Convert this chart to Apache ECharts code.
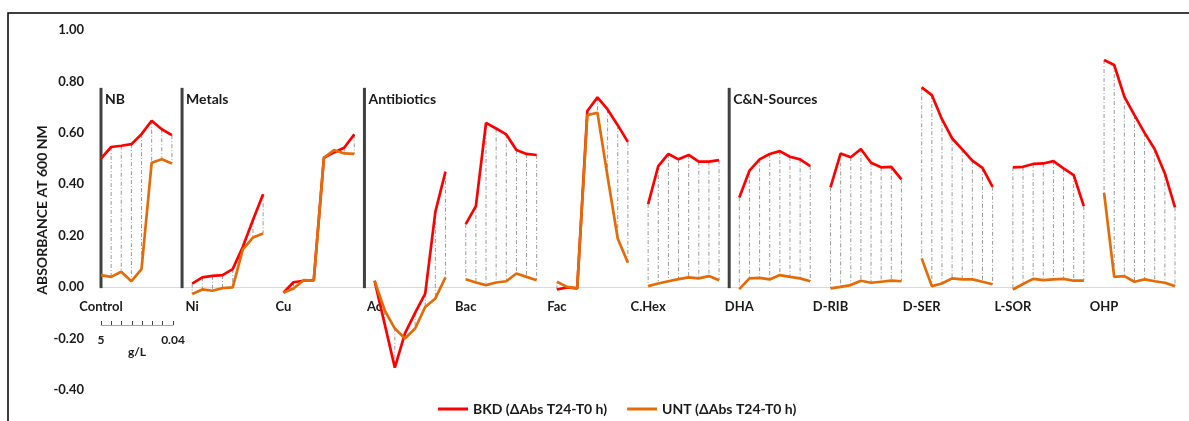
<!DOCTYPE html>
<html>
<head>
<meta charset="utf-8">
<script src="https://cdn.jsdelivr.net/npm/echarts@6/dist/echarts.min.js"></script>
<style>
    html, body { margin: 0; padding: 0; background: #fff; }
    #main { width: 1189px; height: 421px; }
</style>
</head>
<body>
<div id="main"></div>
<script>
// groups of 8 concentrations each (5 g/L down to 0.04 g/L)
const groups = ['Control', 'Ni', 'Cu', 'Ac', 'Bac', 'Fac', 'C.Hex', 'DHA', 'D-RIB', 'D-SER', 'L-SOR', 'OHP'];

const bkdValues = [
    [0.500, 0.545, 0.550, 0.556, 0.595, 0.647, 0.614, 0.591],
    [0.014, 0.038, 0.044, 0.047, 0.070, 0.157, 0.261, 0.361],
    [-0.022, 0.019, 0.025, 0.027, 0.503, 0.524, 0.542, 0.594],
    [0.025, -0.144, -0.313, -0.180, -0.100, -0.025, 0.293, 0.449],
    [0.245, 0.315, 0.639, 0.617, 0.594, 0.533, 0.518, 0.514],
    [-0.009, -0.001, -0.005, 0.685, 0.738, 0.691, 0.630, 0.565],
    [0.323, 0.471, 0.518, 0.497, 0.514, 0.488, 0.488, 0.494],
    [0.349, 0.453, 0.497, 0.518, 0.529, 0.507, 0.497, 0.471],
    [0.388, 0.520, 0.505, 0.537, 0.484, 0.466, 0.468, 0.419],
    [0.777, 0.747, 0.653, 0.579, 0.536, 0.492, 0.464, 0.390],
    [0.466, 0.468, 0.479, 0.481, 0.490, 0.462, 0.436, 0.315],
    [0.883, 0.864, 0.741, 0.669, 0.600, 0.536, 0.442, 0.310]
];

const untValues = [
    [0.047, 0.040, 0.060, 0.023, 0.070, 0.484, 0.497, 0.481],
    [-0.027, -0.009, -0.014, -0.004, -0.001, 0.147, 0.193, 0.209],
    [-0.022, -0.005, 0.027, 0.025, 0.503, 0.533, 0.520, 0.518],
    [0.025, -0.090, -0.161, -0.200, -0.161, -0.077, -0.044, 0.038],
    [0.031, 0.018, 0.008, 0.018, 0.023, 0.053, 0.040, 0.027],
    [0.021, 0.001, -0.005, 0.669, 0.678, 0.429, 0.189, 0.095],
    [0.004, 0.014, 0.023, 0.031, 0.038, 0.034, 0.043, 0.027],
    [-0.008, 0.034, 0.036, 0.030, 0.047, 0.040, 0.034, 0.023],
    [-0.005, 0.001, 0.008, 0.025, 0.017, 0.021, 0.025, 0.023],
    [0.112, 0.004, 0.014, 0.034, 0.030, 0.030, 0.021, 0.011],
    [-0.009, 0.012, 0.032, 0.027, 0.030, 0.032, 0.025, 0.025],
    [0.367, 0.040, 0.043, 0.021, 0.030, 0.023, 0.017, 0.004]
];

// section dividers (category index) and their titles
const sectionAt = [-0.25, 8, 26, 62];
const sectionNames = ['NB', 'Metals', 'Antibiotics', 'C&N-Sources'];
const sectionTop = 0.775;

const doseLabels = ['5', '', '', '', '', '', '', '0.04'];
const yTicks = { min: -0.4, max: 1.0, step: 0.2 };

const FONT = 'Lato, "Open Sans", sans-serif';
const TXT = '#1a1a1a';

// flatten groups into one category axis, with one empty slot between groups
const categories = [];
const bkd = [];
const unt = [];
const drops = [];
groups.forEach((g, gi) => {
    bkdValues[gi].forEach((v, k) => {
        const idx = categories.length;
        categories.push(g + '|' + k);
        bkd.push(v);
        unt.push(untValues[gi][k]);
        drops.push([idx, v, untValues[gi][k]]);
    });
    if (gi < groups.length - 1) {
        categories.push('gap|' + gi);
        bkd.push(null);
        unt.push(null);
    }
});

// put the category axis (line + labels) on the zero line
const gridTop = 30, gridBottom = 31, chartH = 421;
const plotH = chartH - gridTop - gridBottom;
const zeroOffset = -plotH * (0 - yTicks.min) / (yTicks.max - yTicks.min);

const chart = echarts.init(document.getElementById('main'));
const option = {
    animation: false,
    textStyle: { fontFamily: FONT },
    grid: [
        { left: 101, right: 14, top: gridTop, bottom: gridBottom },
        { left: 101, width: 72, top: 300, height: 25 }
    ],
    legend: {
        left: 433,
        top: 397,
        itemWidth: 30,
        itemHeight: 3,
        itemGap: 20,
        icon: 'rect',
        textStyle: { fontFamily: FONT, fontWeight: 'bold', fontSize: 14, color: TXT },
        data: ['BKD (ΔAbs T24-T0 h)', 'UNT (ΔAbs T24-T0 h)']
    },
    xAxis: [
        {
            type: 'category',
            data: categories,
            boundaryGap: false,
            offset: zeroOffset,
            axisLine: { onZero: false, lineStyle: { color: '#d9d9d9', width: 1 } },
            axisTick: { show: false },
            axisLabel: {
                interval: 0,
                margin: 13,
                fontFamily: FONT,
                fontWeight: 'bold',
                fontSize: 13,
                color: TXT,
                formatter: v => {
                    const [name, k] = v.split('|');
                    return name !== 'gap' && k === '0' ? name : '';
                }
            },
            splitLine: { show: false }
        },
        {
            gridIndex: 1,
            type: 'category',
            data: doseLabels.map((d, i) => 'd' + i),
            boundaryGap: false,
            axisLine: { lineStyle: { color: '#a6a6a6', width: 1 } },
            axisTick: { show: true, interval: 0, inside: true, length: 4, lineStyle: { color: '#404040' } },
            axisLabel: {
                interval: 0,
                margin: 9,
                fontFamily: FONT,
                fontWeight: 'bold',
                fontSize: 12,
                color: TXT,
                formatter: (v, i) => doseLabels[i]
            },
            name: 'g/L',
            nameLocation: 'middle',
            nameGap: 21,
            nameMoveOverlap: false,
            nameTextStyle: { fontFamily: FONT, fontWeight: 'bold', fontSize: 12, color: TXT }
        }
    ],
    yAxis: [
        {
            type: 'value',
            min: yTicks.min,
            max: yTicks.max,
            interval: yTicks.step,
            axisLine: { show: false },
            axisTick: { show: false },
            splitLine: { show: false },
            axisLabel: {
                margin: 17,
                fontFamily: FONT,
                fontWeight: 'bold',
                fontSize: 13,
                color: TXT,
                formatter: v => v.toFixed(2)
            },
            name: 'ABSORBANCE AT 600 NM',
            nameLocation: 'middle',
            nameGap: 52,
            nameMoveOverlap: false,
            nameTextStyle: { fontFamily: FONT, fontWeight: 'bold', fontSize: 14, color: TXT }
        },
        { gridIndex: 1, type: 'value', show: false }
    ],
    series: [
        {
            name: 'drops',
            type: 'custom',
            z: 1,
            silent: true,
            encode: { x: 0, y: [1, 2] },
            data: drops,
            renderItem: (params, api) => {
                const x = api.value(0);
                const p1 = api.coord([x, api.value(1)]);
                const p2 = api.coord([x, api.value(2)]);
                return {
                    type: 'line',
                    shape: { x1: p1[0], y1: p1[1], x2: p2[0], y2: p2[1] },
                    style: { stroke: '#9a9a9a', lineWidth: 1, lineDash: [4, 2, 1, 2] }
                };
            }
        },
        {
            name: 'sections',
            type: 'custom',
            z: 1,
            silent: true,
            encode: { x: 0, y: 1 },
            data: sectionAt.map(x => [x, sectionTop]),
            renderItem: (params, api) => {
                const top = api.coord([api.value(0), api.value(1)]);
                const base = api.coord([api.value(0), 0]);
                return {
                    type: 'group',
                    children: [
                        {
                            type: 'line',
                            shape: { x1: top[0], y1: top[1], x2: base[0], y2: base[1] + 1 },
                            style: { stroke: '#404040', lineWidth: 3 }
                        },
                        {
                            type: 'text',
                            style: {
                                text: sectionNames[params.dataIndex],
                                x: top[0] + 4,
                                y: top[1] + 12,
                                verticalAlign: 'middle',
                                fontFamily: FONT,
                                fontWeight: 'bold',
                                fontSize: 14,
                                fill: TXT
                            }
                        }
                    ]
                };
            }
        },
        {
            name: 'BKD (ΔAbs T24-T0 h)',
            type: 'line',
            data: bkd,
            z: 3,
            symbol: 'none',
            connectNulls: false,
            lineStyle: { color: '#ff0000', width: 2.7 },
            itemStyle: { color: '#ff0000' }
        },
        {
            name: 'UNT (ΔAbs T24-T0 h)',
            type: 'line',
            data: unt,
            z: 4,
            symbol: 'none',
            connectNulls: false,
            lineStyle: { color: '#e36c09', width: 2.7 },
            itemStyle: { color: '#e36c09' }
        }
    ],
    graphic: [
        {
            type: 'rect',
            shape: { x: 8, y: 13, width: 1400, height: 600 },
            style: { fill: 'none', stroke: '#000', lineWidth: 1.5 },
            silent: true,
            z: 100
        }
    ]
};

chart.setOption(option);
</script>
</body>
</html>
